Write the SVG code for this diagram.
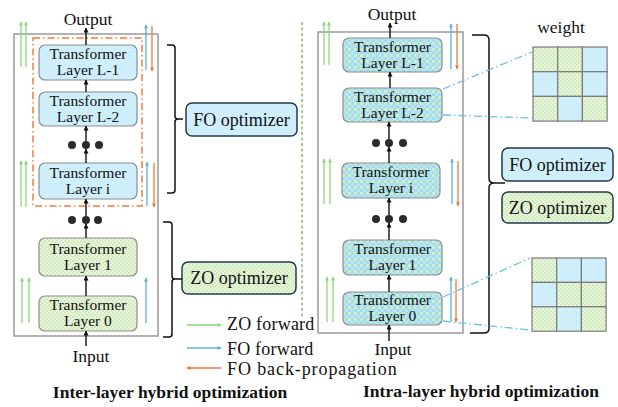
<svg xmlns="http://www.w3.org/2000/svg" width="618" height="407" viewBox="0 0 618 407" font-family="'Liberation Serif', 'Times New Roman', serif">
<defs>
<pattern id="pBlue" width="4" height="4" patternUnits="userSpaceOnUse"><rect width="4" height="4" fill="#cdeefb"/><circle cx="2" cy="2" r="0.6" fill="#eaf8fd"/></pattern>
<pattern id="pGreen" width="4" height="4" patternUnits="userSpaceOnUse"><rect width="4" height="4" fill="#e8f5dd"/><rect width="2" height="2" fill="#d2ebbf"/><rect x="2" y="2" width="2" height="2" fill="#d2ebbf"/></pattern>
<pattern id="pMix" width="6" height="6" patternUnits="userSpaceOnUse"><rect width="6" height="6" fill="#a3dcf2"/><rect width="3" height="3" fill="#d3eec0"/><rect x="3" y="3" width="3" height="3" fill="#b9e6ee"/></pattern>
<marker id="aK" viewBox="0 0 10 10" refX="9" refY="5" markerWidth="5" markerHeight="5" markerUnits="userSpaceOnUse" orient="auto"><path d="M0,0 L10,5 L0,10 z" fill="#111"/></marker>
<marker id="aG" viewBox="0 0 10 10" refX="9" refY="5" markerWidth="4" markerHeight="4" markerUnits="userSpaceOnUse" orient="auto"><path d="M0,0 L10,5 L0,10 z" fill="#8ed57a"/></marker>
<marker id="aB" viewBox="0 0 10 10" refX="9" refY="5" markerWidth="4" markerHeight="4" markerUnits="userSpaceOnUse" orient="auto"><path d="M0,0 L10,5 L0,10 z" fill="#58b3e3"/></marker>
<marker id="aO" viewBox="0 0 10 10" refX="9" refY="5" markerWidth="4" markerHeight="4" markerUnits="userSpaceOnUse" orient="auto"><path d="M0,0 L10,5 L0,10 z" fill="#ef7a3b"/></marker>
</defs>
<style>
text{font-family:"Liberation Serif","Times New Roman",serif;fill:#111}
.t{font-size:15.5px;text-anchor:middle}
.lab{font-size:17.5px}
.cap{font-size:17.5px;font-weight:bold;text-anchor:middle}
.opt{font-size:18px;text-anchor:middle}
.outer{fill:#fff;stroke:#9a9a9a;stroke-width:1.5}
.lay{stroke:#8c8c8c;stroke-width:1.2}
.ob{stroke:#23394a;stroke-width:1.5}
.k{stroke:#111;stroke-width:1.4;fill:none;marker-end:url(#aK)}
.g{stroke:#8ed57a;stroke-width:1.3;fill:none;marker-end:url(#aG)}
.b{stroke:#58b3e3;stroke-width:1.3;fill:none;marker-end:url(#aB)}
.o{stroke:#ef7a3b;stroke-width:1.3;fill:none;marker-end:url(#aO)}
.br{stroke:#111;stroke-width:1.5;fill:none}
.dd{stroke:#6cc0e8;stroke-width:1.3;stroke-dasharray:8,3,1.5,3;fill:none}
.cell{stroke:#7a7a7a;stroke-width:1.2}
.dot{fill:#2b2b2b}
</style>

<!-- Left panel -->
<rect class="outer" x="14" y="34" width="144" height="302"/>
<rect x="33" y="38" width="109" height="168" fill="none" stroke="#ef7d3c" stroke-width="1.5" stroke-dasharray="7,3,1.5,3"/>
<text class="lab" x="88" y="25" text-anchor="middle">Output</text>
<text class="lab" x="91" y="362" text-anchor="middle">Input</text>
<text class="cap" x="170" y="398">Inter-layer hybrid optimization</text>

<g id="L_L1"><rect class="lay" x="39" y="45" width="98" height="35" rx="6" fill="url(#pBlue)"/><text class="t" x="88" y="59">Transformer</text><text class="t" x="88" y="75">Layer L-1</text></g>
<g id="L_L2"><rect class="lay" x="39" y="92" width="98" height="34" rx="6" fill="url(#pBlue)"/><text class="t" x="88" y="105.5">Transformer</text><text class="t" x="88" y="121.5">Layer L-2</text></g>
<g id="L_dots1"><circle class="dot" cx="72" cy="145" r="4"/><circle class="dot" cx="86" cy="145" r="4"/><circle class="dot" cx="99" cy="145" r="4"/></g>
<g id="L_Li"><rect class="lay" x="39" y="163" width="98" height="36" rx="6" fill="url(#pBlue)"/><text class="t" x="88" y="177.5">Transformer</text><text class="t" x="88" y="193.5">Layer i</text></g>
<g id="L_dots2"><circle class="dot" cx="72" cy="220" r="4"/><circle class="dot" cx="86" cy="220" r="4"/><circle class="dot" cx="98" cy="220" r="4"/></g>
<g id="L_L1b"><rect class="lay" x="39" y="238" width="98" height="38" rx="6" fill="url(#pGreen)"/><text class="t" x="88" y="254">Transformer</text><text class="t" x="88" y="270">Layer 1</text></g>
<g id="L_L0"><rect class="lay" x="39" y="296" width="98" height="35" rx="6" fill="url(#pGreen)"/><text class="t" x="88" y="310">Transformer</text><text class="t" x="88" y="326">Layer 0</text></g>

<g id="L_FOopt"><rect class="ob" x="186" y="103" width="111" height="33" rx="6" fill="url(#pBlue)"/><text class="opt" x="241.5" y="125.5">FO optimizer</text></g>
<g id="L_ZOopt"><rect class="ob" x="182" y="262" width="114" height="32" rx="6" fill="url(#pGreen)"/><text class="opt" x="239" y="284">ZO optimizer</text></g>

<!-- Right panel -->
<rect class="outer" x="318" y="32" width="145" height="301"/>
<text class="lab" x="392" y="20" text-anchor="middle">Output</text>
<text class="lab" x="393" y="355" text-anchor="middle">Input</text>
<text class="cap" x="481" y="397">Intra-layer hybrid optimization</text>
<text class="lab" x="561" y="33" text-anchor="middle">weight</text>

<g id="R_L1"><rect class="lay" x="343" y="38" width="99" height="34" rx="6" fill="url(#pMix)"/><text class="t" x="392.5" y="51.5">Transformer</text><text class="t" x="392.5" y="67.5">Layer L-1</text></g>
<g id="R_L2"><rect class="lay" x="343" y="88" width="99" height="34" rx="6" fill="url(#pMix)"/><text class="t" x="392.5" y="101.5">Transformer</text><text class="t" x="392.5" y="117.5">Layer L-2</text></g>
<g id="R_dots1"><circle class="dot" cx="376" cy="143" r="4"/><circle class="dot" cx="389" cy="143" r="4"/><circle class="dot" cx="403" cy="143" r="4"/></g>
<g id="R_Li"><rect class="lay" x="342" y="163" width="98" height="35" rx="6" fill="url(#pMix)"/><text class="t" x="391" y="177">Transformer</text><text class="t" x="391" y="193">Layer i</text></g>
<g id="R_dots2"><circle class="dot" cx="376" cy="219" r="4"/><circle class="dot" cx="389" cy="219" r="4"/><circle class="dot" cx="403" cy="219" r="4"/></g>
<g id="R_L1b"><rect class="lay" x="343" y="240" width="99" height="35" rx="6" fill="url(#pMix)"/><text class="t" x="392.5" y="254">Transformer</text><text class="t" x="392.5" y="270">Layer 1</text></g>
<g id="R_L0"><rect class="lay" x="343" y="292" width="99" height="33" rx="6" fill="url(#pMix)"/><text class="t" x="392.5" y="305">Transformer</text><text class="t" x="392.5" y="321">Layer 0</text></g>

<g id="R_FOopt"><rect class="ob" x="502" y="148" width="111" height="33" rx="6" fill="url(#pBlue)"/><text class="opt" x="557.5" y="170.5">FO optimizer</text></g>
<g id="R_ZOopt"><rect class="ob" x="502" y="192" width="111" height="31" rx="6" fill="url(#pGreen)"/><text class="opt" x="557.5" y="213.5">ZO optimizer</text></g>

<g id="W_top">
<rect class="cell" x="533" y="47" width="24.7" height="24.7" fill="url(#pGreen)"/>
<rect class="cell" x="557.7" y="47" width="24.7" height="24.7" fill="url(#pGreen)"/>
<rect class="cell" x="582.4" y="47" width="24.7" height="24.7" fill="url(#pBlue)"/>
<rect class="cell" x="533" y="71.7" width="24.7" height="24.7" fill="url(#pBlue)"/>
<rect class="cell" x="557.7" y="71.7" width="24.7" height="24.7" fill="url(#pGreen)"/>
<rect class="cell" x="582.4" y="71.7" width="24.7" height="24.7" fill="url(#pBlue)"/>
<rect class="cell" x="533" y="96.4" width="24.7" height="24.7" fill="url(#pGreen)"/>
<rect class="cell" x="557.7" y="96.4" width="24.7" height="24.7" fill="url(#pBlue)"/>
<rect class="cell" x="582.4" y="96.4" width="24.7" height="24.7" fill="url(#pGreen)"/>
</g>
<g id="W_bot">
<rect class="cell" x="532" y="258" width="24.7" height="24.4" fill="url(#pGreen)"/>
<rect class="cell" x="556.7" y="258" width="24.7" height="24.4" fill="url(#pBlue)"/>
<rect class="cell" x="581.4" y="258" width="24.7" height="24.4" fill="url(#pBlue)"/>
<rect class="cell" x="532" y="282.4" width="24.7" height="24.4" fill="url(#pBlue)"/>
<rect class="cell" x="556.7" y="282.4" width="24.7" height="24.4" fill="url(#pGreen)"/>
<rect class="cell" x="581.4" y="282.4" width="24.7" height="24.4" fill="url(#pGreen)"/>
<rect class="cell" x="532" y="306.8" width="24.7" height="24.4" fill="url(#pGreen)"/>
<rect class="cell" x="556.7" y="306.8" width="24.7" height="24.4" fill="url(#pBlue)"/>
<rect class="cell" x="581.4" y="306.8" width="24.7" height="24.4" fill="url(#pGreen)"/>
</g>

<!-- Legend -->
<g id="legend">
<line class="g" x1="187" y1="325" x2="221" y2="325"/>
<text class="lab" x="227" y="330" style="font-size:18px;letter-spacing:0.2px">ZO forward</text>
<line class="b" x1="187" y1="348" x2="221" y2="348"/>
<text class="lab" x="227" y="355" style="font-size:18px;letter-spacing:0.2px">FO forward</text>
<line class="o" x1="221" y1="368" x2="187" y2="368"/>
<text class="lab" x="227" y="375" style="font-size:18px;letter-spacing:0.9px">FO back-propagation</text>
</g>

<g id="connectors">
<!-- divider -->
<line x1="302" y1="22" x2="302" y2="318" stroke="#6aae44" stroke-width="1.2" stroke-dasharray="3,2.5"/>
<!-- left black -->
<line class="k" x1="86" y1="45" x2="86" y2="28"/>
<line class="k" x1="86" y1="92" x2="86" y2="80"/>
<line class="k" x1="86" y1="141" x2="86" y2="126"/>
<line class="k" x1="86" y1="163" x2="86" y2="149"/>
<line class="k" x1="86" y1="216" x2="86" y2="199"/>
<line class="k" x1="86" y1="238" x2="86" y2="224"/>
<line class="k" x1="86" y1="296" x2="86" y2="276"/>
<line class="k" x1="86" y1="346" x2="86" y2="331"/>
<!-- right black -->
<line class="k" x1="390" y1="38" x2="390" y2="23"/>
<line class="k" x1="390" y1="88" x2="390" y2="72"/>
<line class="k" x1="389" y1="139" x2="389" y2="122"/>
<line class="k" x1="389" y1="163" x2="389" y2="147"/>
<line class="k" x1="389" y1="215" x2="389" y2="198"/>
<line class="k" x1="389" y1="240" x2="389" y2="223"/>
<line class="k" x1="389" y1="292" x2="389" y2="275"/>
<line class="k" x1="389" y1="341" x2="389" y2="325"/>
<!-- left side arrows -->
<line class="g" x1="21" y1="67" x2="21" y2="22"/><line class="g" x1="26" y1="67" x2="26" y2="22"/>
<line class="b" x1="146" y1="70" x2="146" y2="25"/><line class="o" x1="152" y1="26" x2="152" y2="71"/>
<line class="g" x1="21" y1="207" x2="21" y2="161"/><line class="g" x1="26" y1="207" x2="26" y2="161"/>
<line class="b" x1="147" y1="206" x2="147" y2="162"/><line class="o" x1="154" y1="163" x2="154" y2="207"/>
<line class="g" x1="22" y1="323" x2="22" y2="278"/><line class="g" x1="29" y1="323" x2="29" y2="278"/>
<line class="b" x1="146" y1="323" x2="146" y2="278"/>
<!-- right side arrows -->
<line class="g" x1="324" y1="65" x2="324" y2="22"/><line class="g" x1="329" y1="65" x2="329" y2="22"/>
<line class="b" x1="451" y1="69" x2="451" y2="24"/><line class="o" x1="457" y1="24" x2="457" y2="69"/>
<line class="g" x1="324" y1="204" x2="324" y2="159"/><line class="g" x1="330" y1="204" x2="330" y2="159"/>
<line class="b" x1="452" y1="204" x2="452" y2="159"/><line class="o" x1="458" y1="161" x2="458" y2="206"/>
<line class="g" x1="327" y1="322" x2="327" y2="277"/><line class="g" x1="333" y1="322" x2="333" y2="277"/>
<line class="b" x1="451" y1="322" x2="451" y2="277"/><line class="o" x1="456" y1="279" x2="456" y2="322"/>
<!-- brackets -->
<path class="br" d="M167,45 H172 Q175,45 175,48 V116 Q175,119 178,119 H183 M178,119 Q175,119 175,122 V190 Q175,193 172,193 H167"/>
<path class="br" d="M163,222 H169 Q172,222 172,225 V276 Q172,279 175,279 H182 M175,279 Q172,279 172,282 V334 Q172,337 169,337 H163"/>
<path class="br" d="M472,35 H484 Q489,35 489,40 V178 Q489,183 494,183 H505 M494,183 Q489,183 489,188 V328 Q489,333 484,333 H470"/>
<!-- weight connectors -->
<line class="dd" x1="443" y1="89" x2="532" y2="52"/>
<line class="dd" x1="443" y1="115" x2="532" y2="118"/>
<line class="dd" x1="443" y1="297" x2="530" y2="258"/>
<line class="dd" x1="443" y1="321" x2="530" y2="330"/>
</g>
</svg>
